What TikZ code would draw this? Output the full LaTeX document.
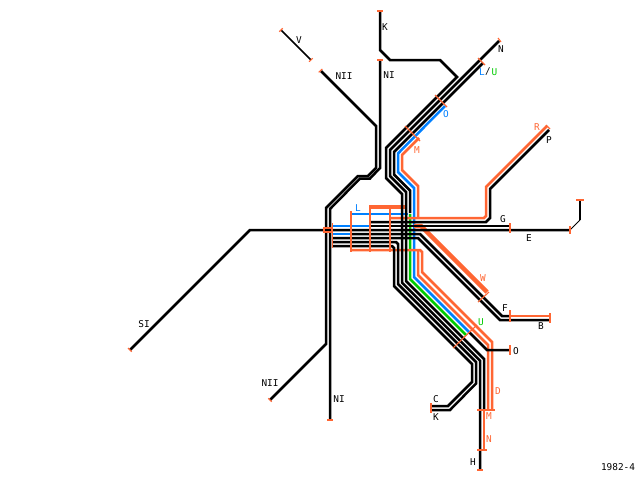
\documentclass[tikz,border=0pt]{standalone}
\usepackage{fontspec}
\setmainfont{DejaVu Sans Mono}
\definecolor{org}{HTML}{FF6633}
\definecolor{blu}{HTML}{0080FF}
\definecolor{grn}{HTML}{00CC00}
\tikzset{
  blk/.style={draw=black,line width=2.5pt,miter limit=4},
  orl/.style={draw=org,line width=2.5pt},
  orw/.style={draw=org,line width=4.5pt},
  bll/.style={draw=blu,line width=2.5pt},
  grl/.style={draw=grn,line width=2.5pt},
  tck/.style={draw=org,line width=1.7pt},
  tcd/.style={draw=org,line width=1.1pt},
  lab/.style={inner sep=0pt,font=\fontsize{9.4}{10}\selectfont,text=black},
  olab/.style={lab,text=org},
  blab/.style={lab,text=blu},
  glab/.style={lab,text=grn}
}
\begin{document}
\begin{tikzpicture}[x=1pt,y=-1pt]
\useasboundingbox (0,0) rectangle (640,480);
\fill[white] (0,0) rectangle (640,480);
% coloured lines (below black)
\draw[grl] (410,214) -- (410,279) -- (466,335);
\draw[bll] (445,106) -- (398,153.5) -- (398,172) -- (414,188) -- (414,277) -- (469,332);
\draw[orl] (419,138) -- (402,155) -- (402,170) -- (418,186) -- (418,218);
\draw[orl] (390,218) -- (484,218) -- (486,216) -- (486,187) -- (547,126);
\draw[orl] (418,250) -- (418,275) -- (488,345) -- (488,410);
\draw[orl] (350,250) -- (420,250) -- (422,252) -- (422,272) -- (492,342) -- (492,410);
\draw[orw] (370,207) -- (405,207);
\draw[orw] (414,226) -- (421,226) -- (487,292);
\draw[orl] (510,316) -- (550,316);
\draw[orl] (484,410) -- (484,450);
\draw[bll] (351,214) -- (408,214);
\draw[bll] (333,226) -- (370,226);
\draw[bll] (333,234) -- (350,234);
% black lines
\draw[blk] (380,11) -- (380,50) -- (390,60) -- (440,60) -- (457,77) -- (386,148) -- (386,178) -- (402,194) -- (402,282.7) -- (480,360.7) -- (480,470);
\draw[blk] (499,41) -- (390,150) -- (390,176) -- (406,192) -- (406,281) -- (484,359) -- (484,410);
\draw[blk] (483,63) -- (394,152) -- (394,174.5) -- (410,190.5) -- (410,213);
\draw[blk] (380,60) -- (380,168) -- (370,178.5) -- (360,178.5) -- (330,209) -- (330,420);
\draw[blk] (321,71) -- (376,126) -- (376,168) -- (368,176) -- (358,176) -- (326,208) -- (326,344) -- (270,400);
\draw[black,line width=1.7pt] (281,30) -- (311,60);
\draw[blk] (130,350) -- (250,230) -- (570,230);
\draw[blk] (549,130) -- (490,189) -- (490,218) -- (486,222) -- (370,222);
\draw[blk] (370,226) -- (510,226);
\draw[blk] (350,234) -- (420,234) -- (502,316) -- (510,316);
\draw[blk] (333,238) -- (418,238) -- (500,320) -- (550,320);
\draw[blk] (333,242) -- (396,242) -- (398,244) -- (398,284) -- (476,362) -- (476,383.5) -- (450,410) -- (431,410);
\draw[blk] (333,246) -- (392,246) -- (394,248) -- (394,286) -- (472,364) -- (472,382) -- (448,406) -- (431,406);
\draw[blk] (469,332) -- (487,350) -- (510,350);
\draw[black,line width=1pt] (570,230) -- (580,220);
\draw[black,line width=1.5pt] (580,220) -- (580,200);
% ticks
\draw[tck] (332.5,223) -- (332.5,248);
\draw[tck] (351,211) -- (351,252);
\draw[tck] (370,205) -- (370,252);
\draw[tck] (390,205) -- (390,252);
\draw[tck] (324,228) rectangle (332,232);
\draw[tck] (510,223) -- (510,233);
\draw[tck] (570,226) -- (570,234);
\draw[tck] (576,200) -- (584,200);
\draw[tck] (510,310) -- (510,322);
\draw[tck] (550,313) -- (550,323);
\draw[tck] (510,345) -- (510,355);
\draw[tck] (431,403) -- (431,413);
\draw[tck] (477,410) -- (495,410);
\draw[tck] (477,450) -- (487,450);
\draw[tck] (477,470) -- (483,470);
\draw[tck] (377,11) -- (383,11);
\draw[tck] (377,60) -- (383,60);
\draw[tck] (327,420) -- (333,420);
\draw[tcd] (405,126) -- (420,141);
\draw[tcd] (435,95) -- (447,107);
\draw[tcd] (478,58) -- (485,65);
\draw[tcd] (498,38) -- (501,42);
\draw[tcd] (546,125) -- (550,129);
\draw[tcd] (453,348) -- (477,325);
\draw[tcd] (478,302) -- (489,292);
\draw[tcd] (279.3,31.7) -- (282.7,28.3);
\draw[tcd] (309,61.7) -- (312.7,58.3);
\draw[tcd] (318.7,72.3) -- (322.3,69);
\draw[tcd] (128,348) -- (131.7,351.7);
\draw[tcd] (268.3,398.3) -- (271.7,401.7);
% labels
\node[lab] (tK) at (385,27) {K};
\node[lab] (tNIa) at (389,75) {NI};
\node[lab] (tN) at (501,49) {N};
\node[blab] (tLa) at (482,72) {L};
\node[lab] (tSl) at (488,72) {/};
\node[glab] (tUa) at (494.5,72) {U};
\node[blab] (tOa) at (446,114) {O};
\node[olab] (tMa) at (417,150) {M};
\node[olab] (tR) at (537,127) {R};
\node[lab] (tP) at (549,140) {P};
\node[lab] (tG) at (503,219) {G};
\node[lab] (tE) at (529,238) {E};
\node[olab] (tW) at (483,278) {W};
\node[lab] (tF) at (505,308) {F};
\node[lab] (tB) at (541,326) {B};
\node[glab] (tUb) at (481,322) {U};
\node[lab] (tOb) at (516,351) {O};
\node[olab] (tD) at (498,391) {D};
\node[olab] (tMb) at (489,416) {M};
\node[olab] (tNb) at (489,439) {N};
\node[lab] (tH) at (473,462) {H};
\node[lab] (tC) at (436,399) {C};
\node[lab] (tKb) at (436,417) {K};
\node[lab] (tNIb) at (339,399) {NI};
\node[lab] (tNIIa) at (270,383) {NII};
\node[lab] (tSI) at (144,324) {SI};
\node[lab] (tV) at (299,40) {V};
\node[lab] (tNIIb) at (344,76) {NII};
\node[blab] (tLb) at (358,208) {L};
\node[lab] (tYear) at (618,467) {1982-4};
\end{tikzpicture}
\end{document}
